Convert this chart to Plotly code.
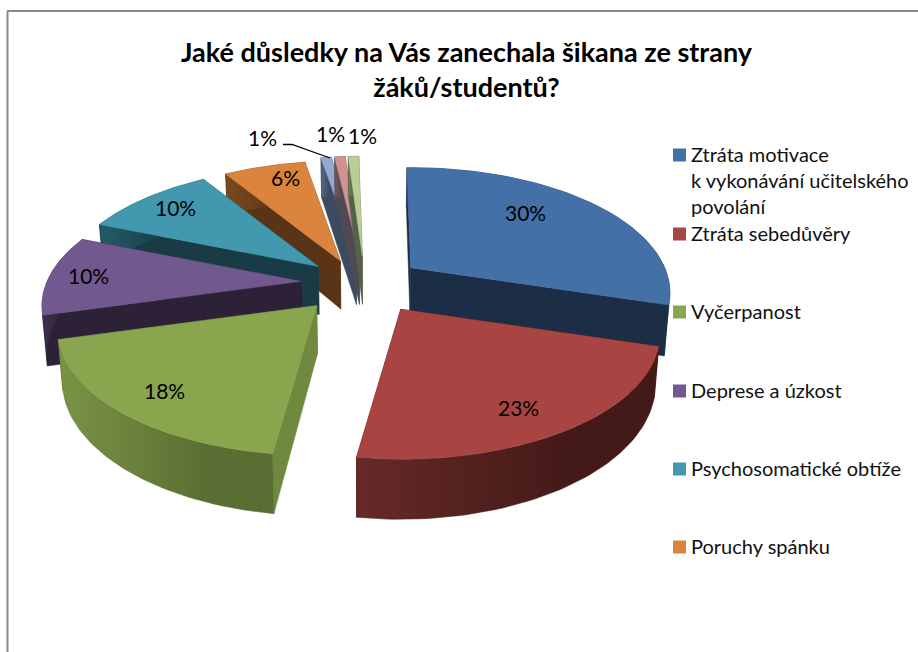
import numpy as np
import plotly.graph_objects as go

FONT = "Lato, 'Open Sans', sans-serif"

# values, the labels only show them rounded
NAMES = [
    "Ztráta motivace<br>k vykonávání učitelského<br>povolání",
    "Ztráta sebedůvěry",
    "Vyčerpanost",
    "Deprese a úzkost",
    "Psychosomatické obtíže",
    "Poruchy spánku",
    "Jiné 1",
    "Jiné 2",
    "Jiné 3",
]
VALUES = [30.0, 22.51, 18.45, 10.45, 10.0, 6.2, 0.8, 0.8, 0.79]
TOP_COLORS = ["#4470a8", "#a84542", "#89a54e", "#71588f", "#4198af", "#db843d",
              "#93a9cf", "#d19392", "#b9cd96"]
WALL_COLORS = ["#1b2e45", "#4a1c19", "#6f8a3e", "#2d2137", "#193b45", "#5a3416",
               "#3d4b60", "#4f4a55", "#56604a"]
RIM_LIGHT = ["#2a4568", "#662a28", "#7a9444", "#3d2f4f", "#255a68", "#7a4a20",
             "#5a6a85", "#7a5555", "#6f7f55"]
RIM_DARK = ["#1b2e45", "#431a18", "#5a6d32", "#2d2137", "#193b45", "#5a3416",
            "#3d4b60", "#4f4a55", "#56604a"]

# painter's order, back to front
DRAW_ORDER = [6, 7, 8, 5, 4, 3, 2, 0, 1]

LABEL_POS = [(525, 212), (518, 407), (164, 390), (88, 275), (175, 207), (285, 177),
             (262, 137), (330, 133), (362, 135)]
LEGEND_Y = [155, 234, 312, 391, 469, 547]

# projection of the tilted pie
CX, CY = 365, 285
RX, RY = 254, 120
PERSP = 0.2
DEPTH = 48
BOTTOM_SHRINK = 0.985
EXPLODE = 0.24
START_ANGLE = -1.0
SLICE_NUDGE = [(-3, 0), (3, 0), (-8, -1), (-3, -2), (0, 0), (-3, 3), (0, 0), (0, 0), (0, 0)]


def project(ang, r=1.0):
    u = np.sin(np.radians(ang)) * r
    v = np.cos(np.radians(ang)) * r
    s = 1 / (1 + PERSP * v)
    return RX * u * s, -RY * v * s, s


def poly(xs, ys, color, gradient=None):
    kw = {}
    if gradient:
        kw["fillgradient"] = dict(type="horizontal", colorscale=[[0, gradient[0]], [0.7, gradient[1]], [1, gradient[1]]])
    else:
        kw["fillcolor"] = color
    return go.Scatter(x=xs, y=ys, mode="lines", fill="toself", line=dict(width=0.5, color=color),
                      hoverinfo="skip", showlegend=False, **kw)


fig = go.Figure()

edges = START_ANGLE + np.cumsum([0] + VALUES) * 3.6
for i in DRAW_ORDER:
    a0, a1 = edges[i], edges[i + 1]
    mid = (a0 + a1) / 2
    ax = CX + EXPLODE * RX * np.sin(np.radians(mid)) + SLICE_NUDGE[i][0]
    ay = CY - EXPLODE * RY * np.cos(np.radians(mid)) + SLICE_NUDGE[i][1]

    angs = np.linspace(a0, a1, 60)
    px, py, ps = project(angs)
    tx = ax + px
    ty = ay + py
    bx = CX + (tx - CX) * BOTTOM_SHRINK
    by = ty + DEPTH * ps
    abx = CX + (ax - CX) * BOTTOM_SHRINK
    aby = ay + DEPTH

    # radial walls
    fig.add_trace(poly([ax, tx[0], bx[0], abx, ax], [ay, ty[0], by[0], aby, ay], WALL_COLORS[i]))
    fig.add_trace(poly([ax, tx[-1], bx[-1], abx, ax], [ay, ty[-1], by[-1], aby, ay], WALL_COLORS[i]))
    # outer rim
    fig.add_trace(poly(list(tx) + list(bx[::-1]) + [tx[0]], list(ty) + list(by[::-1]) + [ty[0]],
                       RIM_DARK[i], gradient=(RIM_LIGHT[i], RIM_DARK[i])))
    # top face
    fig.add_trace(poly([ax] + list(tx) + [ax], [ay] + list(ty) + [ay], TOP_COLORS[i]))

# leader line of the first 1% label
fig.add_trace(go.Scatter(x=[283, 292, 330], y=[144.5, 144.5, 158], mode="lines",
                         line=dict(color="black", width=1.3), hoverinfo="skip", showlegend=False))

# legend keys, the last three slices have none in the original
fig.add_trace(go.Scatter(x=[679.5] * len(LEGEND_Y), y=LEGEND_Y, mode="markers",
                         marker=dict(symbol="square", size=13, color=TOP_COLORS[:len(LEGEND_Y)]),
                         hoverinfo="skip", showlegend=False))

annotations = []
for i, (x, y) in enumerate(LABEL_POS):
    annotations.append(dict(x=x, y=y, text=f"{round(VALUES[i])}%", showarrow=False,
                            font=dict(size=21, color="black", family=FONT)))
for name, y in zip(NAMES, LEGEND_Y):
    annotations.append(dict(x=691, y=y - 15, text=name, showarrow=False, xanchor="left", yanchor="top",
                            align="left", font=dict(size=20, color="#111111", family=FONT),
                            xshift=-2))
annotations.append(dict(x=467, y=69, text="<b>Jaké důsledky na Vás zanechala šikana ze strany<br>žáků/studentů?</b>",
                        showarrow=False, align="center", font=dict(size=27, color="black", family=FONT)))

fig.update_layout(
    width=918,
    height=652,
    margin=dict(l=0, r=0, t=0, b=0),
    paper_bgcolor="white",
    plot_bgcolor="white",
    xaxis=dict(range=[0, 918], visible=False, fixedrange=True),
    yaxis=dict(range=[652, 0], visible=False, fixedrange=True),
    annotations=annotations,
    shapes=[
        dict(type="line", x0=7.5, x1=7.5, y0=11, y1=652, line=dict(color="#8c8c8c", width=2)),
        dict(type="line", x0=7, x1=918, y0=11, y1=11, line=dict(color="#8c8c8c", width=2)),
    ],
)

fig.write_html("out.html", config={"displayModeBar": False},
               post_script="document.body.style.margin='0';")
